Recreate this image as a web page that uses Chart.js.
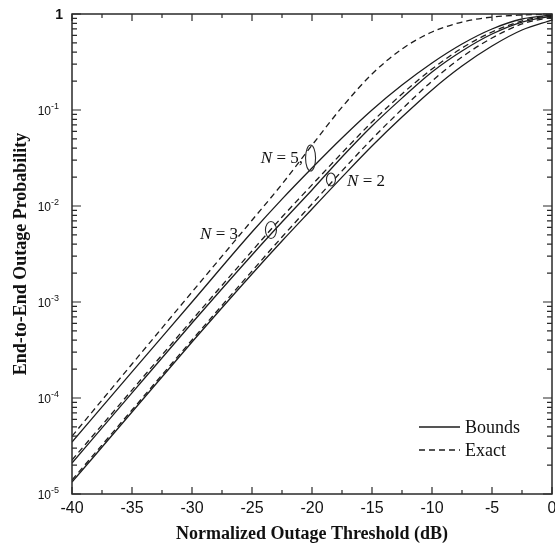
<!DOCTYPE html>
<html>
<head>
<meta charset="utf-8">
<script src="https://cdn.jsdelivr.net/npm/chart.js@4.4.1/dist/chart.umd.min.js"></script>
<style>
html,body{margin:0;padding:0;background:#fff;}
#wrap{width:555px;height:545px;}
</style>
</head>
<body>
<div id="wrap"><canvas id="c" width="555" height="545"></canvas></div>
<script>
// normalized outage threshold (dB)
let thresholdDb=[-40,-35,-30,-25,-22.5,-20,-17.5,-15,-12.5,-10,-7.5,-5,-2.5,0];

// end-to-end outage probability
let exactN5=[4.0e-5,2.26e-4,1.27e-3,7.1e-3,1.69e-2,4.3e-2,0.107,0.237,0.432,0.649,0.825,0.93,0.976,0.998];
let boundN5=[3.48e-5,1.87e-4,1.0e-3,5.36e-3,1.18e-2,2.49e-2,5.11e-2,0.1,0.182,0.309,0.487,0.698,0.887,0.976];
let exactN3=[2.26e-5,1.21e-4,6.49e-4,3.4e-3,7.67e-3,1.66e-2,3.57e-2,7.5e-2,0.147,0.267,0.442,0.649,0.846,0.976];
let boundN3=[2.1e-5,1.13e-4,6.04e-4,3.09e-3,6.81e-3,1.47e-2,3.24e-2,6.81e-2,0.133,0.249,0.412,0.619,0.825,0.953];
let exactN2=[1.4e-5,7.5e-5,4.02e-4,2.1e-3,4.75e-3,1.05e-2,2.32e-2,4.99e-2,0.102,0.2,0.357,0.562,0.787,0.93];
let boundN2=[1.33e-5,7.14e-5,3.83e-4,1.96e-3,4.32e-3,9.31e-3,2.0e-2,4.22e-2,8.45e-2,0.162,0.287,0.464,0.681,0.866];

let xTicks=[-40,-35,-30,-25,-20,-15,-10,-5,0];
let yDecades=[1,1e-1,1e-2,1e-3,1e-4,1e-5];
let yLabels=["1","-1","-2","-3","-4","-5"];
let legendNames=["Bounds","Exact"];

// curve labels and the little ellipses (data coords)
let nLabels=[
  {txt:" = 5,",x:-20.75,y:0.028,align:"right"},
  {txt:" = 3",x:-29.33,y:4.53e-3,align:"left"},
  {txt:" = 2",x:-17.08,y:0.0162,align:"left"}
];
let rings=[
  {x:-20.12,y:0.0316,rx:5,ry:13},
  {x:-23.42,y:5.62e-3,rx:5.5,ry:8.5},
  {x:-18.42,y:0.0189,rx:4.5,ry:6.5}
];

const ink="#1c1c1c";
function pts(arr){return arr.map((v,i)=>({x:thresholdDb[i],y:v}));}
function ds(arr,dashed){
  return {data:pts(arr),borderColor:ink,borderWidth:1.3,pointRadius:0,fill:false,
    borderDash:dashed?[6,4]:[],cubicInterpolationMode:"monotone"};
}

const frame={
  id:"frame",
  afterDraw(ch){
    const {ctx,chartArea:a,scales:{x,y}}=ch;
    ctx.save();
    ctx.strokeStyle="#2a2a2a";
    ctx.lineWidth=1.5;
    ctx.strokeRect(a.left,a.top,a.right-a.left,a.bottom-a.top);
    ctx.lineWidth=1.2;
    ctx.beginPath();
    // x ticks, top and bottom, pointing in
    for(let v=-40;v<=0;v+=2.5){
      let px=x.getPixelForValue(v);
      let len=(v%5===0)?7:4;
      ctx.moveTo(px,a.bottom);ctx.lineTo(px,a.bottom-len);
      ctx.moveTo(px,a.top);ctx.lineTo(px,a.top+len);
    }
    // y ticks, left and right
    for(let k=-5;k<=0;k++){
      let py=y.getPixelForValue(Math.pow(10,k));
      ctx.moveTo(a.left,py);ctx.lineTo(a.left+9,py);
      ctx.moveTo(a.right,py);ctx.lineTo(a.right-9,py);
      if(k<0){
        for(let m=2;m<=9;m++){
          let pm=y.getPixelForValue(m*Math.pow(10,k));
          ctx.moveTo(a.left,pm);ctx.lineTo(a.left+5,pm);
          ctx.moveTo(a.right,pm);ctx.lineTo(a.right-5,pm);
        }
      }
    }
    ctx.stroke();

    // y tick labels with superscripts
    ctx.fillStyle="#111";
    ctx.textBaseline="alphabetic";
    yDecades.forEach((v,i)=>{
      let py=y.getPixelForValue(v);
      if(i===0){
        ctx.font='bold 14px "Liberation Sans"';
        ctx.textAlign="right";
        ctx.fillText(yLabels[0],63,py+5);
        return;
      }
      ctx.font='9px "Liberation Sans"';
      ctx.textAlign="right";
      let sw=ctx.measureText(yLabels[i]).width;
      ctx.fillText(yLabels[i],59,py-1);
      ctx.font='12px "Liberation Sans"';
      ctx.fillText("10",59-sw,py+5);
    });

    // curve labels
    nLabels.forEach(l=>{
      let px=x.getPixelForValue(l.x),py=y.getPixelForValue(l.y);
      ctx.font='17px "Liberation Serif"';
      let rest=ctx.measureText(l.txt).width;
      ctx.font='italic 17px "Liberation Serif"';
      let nw=ctx.measureText("N").width;
      let left=l.align==="right"?px-rest-nw:px;
      ctx.textAlign="left";
      ctx.fillText("N",left,py);
      ctx.font='17px "Liberation Serif"';
      ctx.fillText(l.txt,left+nw,py);
    });
    ctx.lineWidth=1.1;
    rings.forEach(r=>{
      ctx.beginPath();
      ctx.ellipse(x.getPixelForValue(r.x),y.getPixelForValue(r.y),r.rx,r.ry,0,0,Math.PI*2);
      ctx.stroke();
    });

    // legend, lower right
    let lx=a.right-133,ly=a.bottom-67;
    ctx.strokeStyle=ink;ctx.lineWidth=1.3;
    legendNames.forEach((n,i)=>{
      let yy=ly+i*23;
      ctx.setLineDash(i===1?[6,4]:[]);
      ctx.beginPath();ctx.moveTo(lx,yy);ctx.lineTo(lx+41,yy);ctx.stroke();
      ctx.setLineDash([]);
      ctx.font='18px "Liberation Serif"';
      ctx.textAlign="left";
      ctx.fillText(n,lx+46,yy+6);
    });
    ctx.restore();
  }
};

new Chart(document.getElementById("c"),{
  type:"line",
  data:{datasets:[
    ds(exactN5,true),ds(boundN5,false),
    ds(exactN3,true),ds(boundN3,false),
    ds(exactN2,true),ds(boundN2,false)
  ]},
  options:{
    responsive:false,
    animation:false,
    devicePixelRatio:1,
    layout:{padding:{left:0,right:3,top:14,bottom:0}},
    plugins:{legend:{display:false},tooltip:{enabled:false}},
    scales:{
      x:{
        type:"linear",min:-40,max:0,
        afterBuildTicks(s){s.ticks=xTicks.map(v=>({value:v}));},
        afterFit(s){s.height=51;s.paddingLeft=0;s.paddingRight=0;},
        grid:{display:false,drawTicks:false},
        border:{display:false},
        ticks:{padding:5,color:"#111",maxRotation:0,autoSkip:false,
          font:{family:"Liberation Sans",size:16},
          callback:v=>String(v)},
        title:{display:true,text:"Normalized Outage Threshold (dB)",color:"#111",
          padding:{top:0,bottom:0},
          font:{family:"Liberation Serif",size:18,weight:"bold"}}
      },
      y:{
        type:"logarithmic",min:1e-5,max:1,
        afterFit(s){s.width=72;s.paddingTop=0;s.paddingBottom=0;},
        grid:{display:false,drawTicks:false},
        border:{display:false},
        ticks:{display:false},
        title:{display:true,text:"End-to-End Outage Probability",color:"#111",
          padding:{top:11,bottom:0},
          font:{family:"Liberation Serif",size:18,weight:"bold"}}
      }
    }
  },
  plugins:[frame]
});
</script>
</body>
</html>
